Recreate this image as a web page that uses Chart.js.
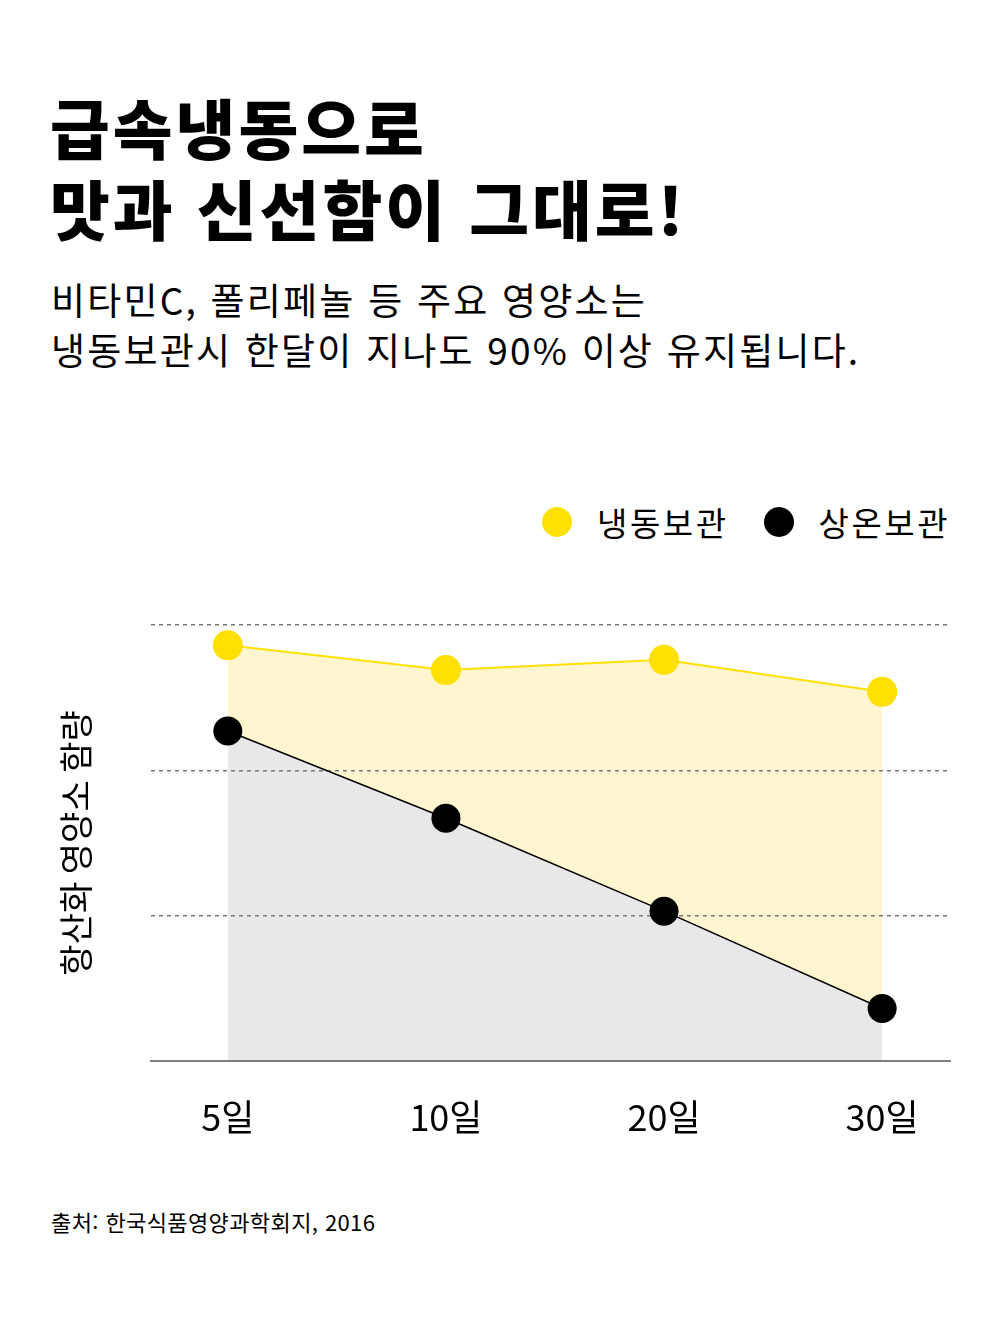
<!DOCTYPE html>
<html lang="ko">
<head>
<meta charset="utf-8">
<script src="https://cdn.jsdelivr.net/npm/chart.js@4.4.1/dist/chart.umd.min.js"></script>
<style>
  html, body { margin: 0; padding: 0; background: #fff; }
  body { width: 1000px; height: 1329px; position: relative; overflow: hidden;
         font-family: "Noto Sans CJK KR", "Noto Sans", sans-serif; color: #000; }
  .title { position: absolute; left: 50px; top: 86px; font-size: 65px; font-weight: 900;
           line-height: 81px; letter-spacing: 3px; }
  .desc { position: absolute; left: 51px; top: 274px; font-size: 37px; font-weight: 400;
          line-height: 50px; letter-spacing: 2.2px; }
  .legend { position: absolute; top: 498px; right: 50px; display: flex; align-items: center;
            font-size: 33px; letter-spacing: 2.5px; }
  .legend .item { display: flex; align-items: center; margin-left: 35px; }
  .legend .dot { width: 30px; height: 30px; border-radius: 50%; margin-right: 25px; }
  .chart-box { position: absolute; left: 0; top: 590px; width: 1000px; height: 590px; }
  .source { position: absolute; left: 51px; top: 1205px; font-size: 22px; letter-spacing: 0.4px; }
</style>
</head>
<body>
<div class="title">급속냉동으로<br>맛과 신선함이 그대로!</div>
<div class="desc">비타민C, 폴리페놀 등 주요 영양소는<br>냉동보관시 한달이 지나도 90% 이상 유지됩니다.</div>
<div class="legend" id="legend"></div>
<div class="chart-box"><canvas id="chart"></canvas></div>
<div class="source">출처: 한국식품영양과학회지, 2016</div>

<script>
// 데이터
const days = ['5일', '10일', '20일', '30일'];
const seriesNames = ['냉동보관', '상온보관'];
const frozen = [98.6, 96.9, 97.6, 95.4];
const roomTemp = [92.7, 86.7, 80.3, 73.6];
const yTicks = [70, 80, 90, 100];

const yellow = '#FFE000';
const black = '#000000';

function toPoints(values) {
    return values.map((v, i) => ({ x: i, y: v }));
}

// 범례
function buildLegend(colors) {
    const legend = document.getElementById('legend');
    seriesNames.forEach((name, i) => {
        const item = document.createElement('div');
        item.className = 'item';
        const dot = document.createElement('span');
        dot.className = 'dot';
        dot.style.backgroundColor = colors[i];
        const label = document.createElement('span');
        label.textContent = name;
        item.appendChild(dot);
        item.appendChild(label);
        legend.appendChild(item);
    });
}

buildLegend([yellow, black]);

const ctx = document.getElementById('chart').getContext('2d');
new Chart(ctx, {
    type: 'line',
    data: {
        datasets: [
            {
                label: seriesNames[0],
                data: toPoints(frozen),
                borderColor: yellow,
                borderWidth: 2,
                pointBackgroundColor: yellow,
                pointBorderWidth: 0,
                pointRadius: 15,
                backgroundColor: '#FFF6D0',
                fill: 1,
                tension: 0,
                order: 2
            },
            {
                label: seriesNames[1],
                data: toPoints(roomTemp),
                borderColor: black,
                borderWidth: 1.5,
                pointBackgroundColor: black,
                pointBorderWidth: 0,
                pointRadius: 14.5,
                backgroundColor: '#E8E8E8',
                fill: 'origin',
                tension: 0,
                order: 1
            }
        ]
    },
    options: {
        responsive: true,
        maintainAspectRatio: false,
        animation: false,
        clip: false,
        layout: { padding: { left: 56, right: 50, top: 35, bottom: 6 } },
        plugins: {
            legend: { display: false },
            tooltip: { enabled: false },
            // 채우기를 그리드 아래에 그림
            filler: { drawTime: 'beforeDraw' }
        },
        scales: {
            x: {
                type: 'linear',
                min: -0.353,
                max: 3.311,
                afterBuildTicks: axis => { axis.ticks = days.map((d, i) => ({ value: i })); },
                ticks: {
                    callback: value => days[value],
                    color: '#000',
                    padding: 35,
                    maxRotation: 0,
                    font: { family: '"Noto Sans CJK KR", sans-serif', size: 36 }
                },
                grid: { display: false, drawTicks: false, tickLength: 0 },
                border: { display: true, color: '#7f7f7f', width: 2 }
            },
            y: {
                min: yTicks[0],
                max: yTicks[yTicks.length - 1],
                afterBuildTicks: axis => { axis.ticks = yTicks.map(v => ({ value: v })); },
                ticks: { display: false },
                grid: {
                    drawTicks: false,
                    tickLength: 0,
                    lineWidth: 1.5,
                    color: c => c.tick && c.tick.value === yTicks[0] ? 'rgba(0,0,0,0)' : '#777777'
                },
                border: { display: false, dash: [4, 4] },
                title: {
                    display: true,
                    text: '항산화 영양소 함량',
                    color: '#000',
                    padding: { top: 0, bottom: 54 },
                    font: { family: '"Noto Sans CJK KR", sans-serif', size: 34 }
                }
            }
        }
    }
});
</script>
</body>
</html>
